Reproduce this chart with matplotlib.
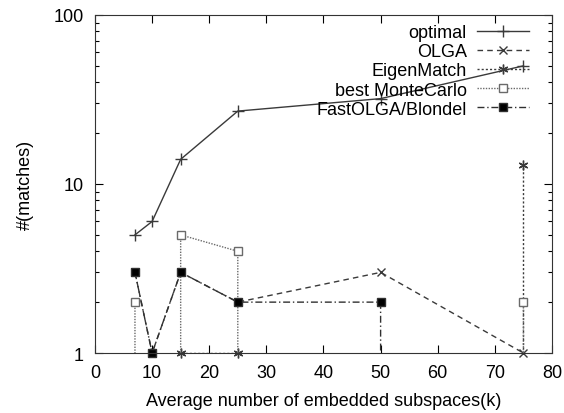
import numpy as np
import matplotlib
matplotlib.use('Agg')
import matplotlib.pyplot as plt

plt.rcParams['font.family'] = ['Liberation Sans', 'DejaVu Sans']
plt.rcParams['font.size'] = 13

# average number of embedded subspaces (k)
k = [7, 10, 15, 25, 50, 75]

# number of matches per method (0 = nothing found, not drawable on log axis)
optimal = [5, 6, 14, 27, 32, 50]
olga = [3, 1, 3, 2, 3, 1]
eigenmatch = [0, 0, 1, 1, 0, 13]
best_montecarlo = [2, 0, 5, 4, 0, 2]
fastolga_blondel = [3, 1, 3, 2, 2, 0]

labels = ['optimal', 'OLGA', 'EigenMatch', 'best MonteCarlo', 'FastOLGA/Blondel']

YMIN, YMAX = 1, 100


def log_path(xs, ys, bottom):
    # gnuplot-like: a zero value sends the line straight down to the axis
    px, py = [], []
    n = len(xs)
    for i in range(n):
        if ys[i] > 0:
            px.append(xs[i]); py.append(ys[i])
        else:
            if i > 0 and ys[i - 1] > 0:
                px += [xs[i - 1], np.nan]; py += [bottom, np.nan]
            if i < n - 1 and ys[i + 1] > 0:
                px.append(xs[i + 1]); py.append(bottom)
    return px, py


fig = plt.figure(figsize=(5.64, 4.14), dpi=100)
ax = fig.add_axes([0.1684, 0.1449, 0.8103, 0.8165])
ax.set_yscale('log')

styles = [
    dict(color='#3a3a3a', ls='-', marker='+', ms=8, mfc='none'),
    dict(color='#3a3a3a', ls=(0, (4, 3)), marker='x', ms=6, mfc='none'),
    dict(color='#3a3a3a', ls=(0, (1.5, 1.5)), marker=(6, 2, 0), ms=7, mfc='none'),
    dict(color='#6a6a6a', ls=(0, (1, 1)), marker='s', ms=6, mfc='white'),
    dict(color='#303030', ls=(0, (5, 2, 1, 2)), marker='s', ms=6, mfc='black'),
]

handles = []
for ys, st, lab in zip([optimal, olga, eigenmatch, best_montecarlo, fastolga_blondel], styles, labels):
    px, py = log_path(k, ys, YMIN)
    ln, = ax.plot(px, py, color=st['color'], ls=st['ls'], lw=1.0)
    mx = [x for x, y in zip(k, ys) if y > 0]
    my = [y for y in ys if y > 0]
    mk, = ax.plot(mx, my, ls='none', marker=st['marker'], ms=st['ms'],
                  mfc=st['mfc'], mec=st['color'], mew=1.0, clip_on=False)
    handles.append((ln, mk))

ax.set_xlim(0, 80)
ax.set_ylim(YMIN, YMAX)
ax.set_xticks(np.arange(0, 81, 10))
ax.set_yticks([1, 10, 100])
ax.set_yticklabels(['1', '10', '100'])
ax.tick_params(which='both', direction='in', top=True, right=True)
ax.tick_params(which='major', length=6, width=0.8)
ax.tick_params(which='minor', length=3, width=0.8)
ax.tick_params(axis='x', pad=8)
ax.tick_params(axis='y', pad=8)
for sp in ax.spines.values():
    sp.set_color('#333333')

ax.set_xlabel('Average number of embedded subspaces(k)', labelpad=8)
ax.set_ylabel('#(matches)', labelpad=14)

ax.legend(handles, labels, loc='upper right', bbox_to_anchor=(0.95, 0.973),
          frameon=False, markerfirst=False, handlelength=2.9, handletextpad=0.55,
          labelspacing=0.12, borderpad=0, borderaxespad=0)

fig.savefig('out.png', dpi=100)
